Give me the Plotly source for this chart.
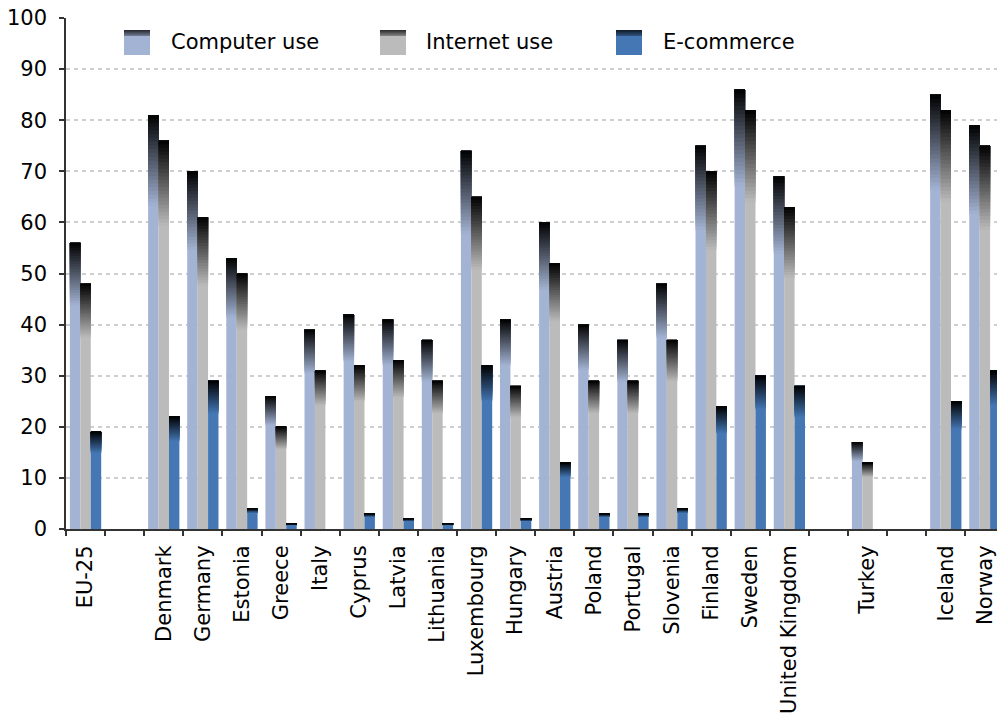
import plotly.graph_objects as go

categories = ["EU-25", " ", "Denmark", "Germany", "Estonia", "Greece", "Italy", "Cyprus",
              "Latvia", "Lithuania", "Luxembourg", "Hungary", "Austria", "Poland", "Portugal",
              "Slovenia", "Finland", "Sweden", "United Kingdom", "  ", "Turkey", "   ",
              "Iceland", "Norway"]
computer_use = [56, None, 81, 70, 53, 26, 39, 42, 41, 37, 74, 41, 60, 40, 37, 48, 75, 86, 69,
                None, 17, None, 85, 79]
internet_use = [48, None, 76, 61, 50, 20, 31, 32, 33, 29, 65, 28, 52, 29, 29, 37, 70, 82, 63,
                None, 13, None, 82, 75]
e_commerce = [19, None, 22, 29, 4, 1, None, 3, 2, 1, 32, 2, 13, 3, 3, 4, 24, 30, 28,
              None, None, None, 25, 31]
series_names = ["Computer use", "Internet use", "E-commerce"]
series_values = [computer_use, internet_use, e_commerce]
series_colors = ["#A3B3D3", "#BBBBBB", "#4477B4"]

FONT = "Verdana, DejaVu Sans, sans-serif"
FS = 21
GRAD_FRAC = 0.22   # top share of each bar drawn as a gradient to black
N_SEG = 24


def hex_to_rgb(h):
    h = h.lstrip("#")
    return tuple(int(h[i:i + 2], 16) for i in (0, 2, 4))


def mix(c, t):
    r, g, b = hex_to_rgb(c)
    return "rgb(%d,%d,%d)" % (round(r * (1 - t)), round(g * (1 - t)), round(b * (1 - t)))


fig = go.Figure()
for name, vals, col in zip(series_names, series_values, series_colors):
    # solid lower body of the bar
    fig.add_trace(go.Bar(
        x=categories, y=vals, name=name, offsetgroup=name,
        marker=dict(color=col, line=dict(width=0)), showlegend=False, hoverinfo="x+y+name"))
    # gradient on top: overlapping segments, each from its start up to the bar top
    for k in range(N_SEG):
        lo = (1 - GRAD_FRAC) + GRAD_FRAC * k / N_SEG
        t = (k + 0.5) / N_SEG
        fig.add_trace(go.Bar(
            x=categories,
            y=[None if v is None else v * (1 - lo) for v in vals],
            base=[None if v is None else v * lo for v in vals],
            offsetgroup=name, marker=dict(color=mix(col, t), line=dict(width=0)),
            showlegend=False, hoverinfo="skip"))

# custom legend (swatches with a dark gradient top + labels)
plot_w = 931
plot_h = 511
leg_px = [124, 380, 616]
text_px = [169, 424, 661]
sw_top, sw_bot, sw_w = 30, 55, 26
shapes = []
annotations = []
for px, tx, name, col in zip(leg_px, text_px, series_names, series_colors):
    x0 = (px - 66) / plot_w
    x1 = (px + sw_w - 66) / plot_w
    shapes.append(dict(type="rect", xref="paper", yref="paper", x0=x0, x1=x1,
                       y0=(529 - sw_bot) / plot_h, y1=(529 - sw_top) / plot_h,
                       fillcolor=col, line=dict(width=0), layer="above"))
    nstripe = 6
    for k in range(nstripe):
        yb = sw_top + (nstripe - k) * 1.0
        shapes.append(dict(type="rect", xref="paper", yref="paper", x0=x0, x1=x1,
                           y0=(529 - yb) / plot_h, y1=(529 - sw_top) / plot_h,
                           fillcolor=mix(col, 0.25 + 0.5 * (k + 1) / nstripe),
                           line=dict(width=0), layer="above"))
    annotations.append(dict(text=name, xref="paper", yref="paper",
                            x=(tx - 66) / plot_w, y=(529 - (sw_top + sw_bot) / 2) / plot_h,
                            xanchor="left", yanchor="middle", showarrow=False,
                            font=dict(family=FONT, size=FS, color="#000")))

fig.update_layout(
    width=997, height=716,
    margin=dict(l=66, r=0, t=18, b=187, autoexpand=False),
    paper_bgcolor="white", plot_bgcolor="white",
    barmode="group", bargap=0.2, bargroupgap=0,
    showlegend=False,
    font=dict(family=FONT, size=FS, color="#000"),
    shapes=shapes, annotations=annotations,
    xaxis=dict(type="category", categoryorder="array", categoryarray=categories,
               range=[-0.5, 23.31], tickson="boundaries", ticks="outside", ticklen=5,
               tickwidth=1.5, tickcolor="#333", tickangle=-90, showline=True,
               linecolor="#333", linewidth=2, showgrid=False, ticklabelstandoff=6,
               tickfont=dict(family=FONT, size=FS, color="#000")),
    yaxis=dict(range=[0, 100], dtick=10, ticks="outside", ticklen=5, tickwidth=1.5,
               tickcolor="#333", showline=True, linecolor="#333", linewidth=1.5,
               showgrid=True, gridcolor="#CFCFCF", gridwidth=2, griddash="4px,4px",
               zeroline=False, ticklabelstandoff=8,
               tickfont=dict(family=FONT, size=FS, color="#000")),
)

fig.write_html("out.html")
